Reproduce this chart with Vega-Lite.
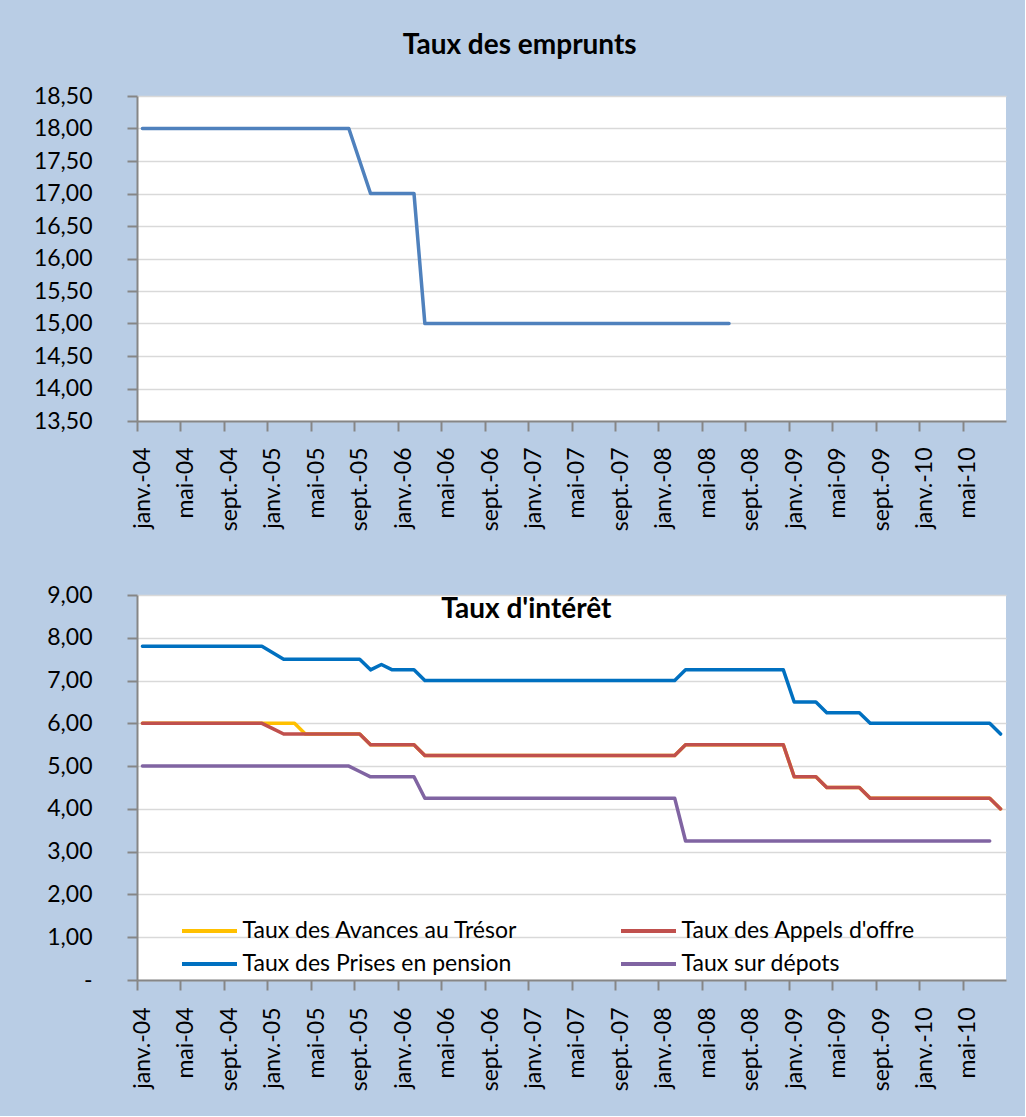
{
  "$schema": "https://vega.github.io/schema/vega-lite/v6.json",
  "background": "#b9cde5",
  "padding": {"left": 33, "top": 32, "right": 19, "bottom": 25},
  "spacing": 53,
  "resolve": {"legend": {"color": "independent"}, "scale": {"color": "independent"}},
  "datasets": {
    "mois": [
      {"m": "janv.-04", "emp": 18, "av": 6, "ao": 6, "pp": 7.8, "dep": 5},
      {"m": "févr.-04", "emp": 18, "av": 6, "ao": 6, "pp": 7.8, "dep": 5},
      {"m": "mars-04", "emp": 18, "av": 6, "ao": 6, "pp": 7.8, "dep": 5},
      {"m": "avr.-04", "emp": 18, "av": 6, "ao": 6, "pp": 7.8, "dep": 5},
      {"m": "mai-04", "emp": 18, "av": 6, "ao": 6, "pp": 7.8, "dep": 5},
      {"m": "juin-04", "emp": 18, "av": 6, "ao": 6, "pp": 7.8, "dep": 5},
      {"m": "juil.-04", "emp": 18, "av": 6, "ao": 6, "pp": 7.8, "dep": 5},
      {"m": "août-04", "emp": 18, "av": 6, "ao": 6, "pp": 7.8, "dep": 5},
      {"m": "sept.-04", "emp": 18, "av": 6, "ao": 6, "pp": 7.8, "dep": 5},
      {"m": "oct.-04", "emp": 18, "av": 6, "ao": 6, "pp": 7.8, "dep": 5},
      {"m": "nov.-04", "emp": 18, "av": 6, "ao": 6, "pp": 7.8, "dep": 5},
      {"m": "déc.-04", "emp": 18, "av": 6, "ao": 6, "pp": 7.8, "dep": 5},
      {"m": "janv.-05", "emp": 18, "av": 6, "ao": 5.875, "pp": 7.65, "dep": 5},
      {"m": "févr.-05", "emp": 18, "av": 6, "ao": 5.75, "pp": 7.5, "dep": 5},
      {"m": "mars-05", "emp": 18, "av": 6, "ao": 5.75, "pp": 7.5, "dep": 5},
      {"m": "avr.-05", "emp": 18, "av": 5.75, "ao": 5.75, "pp": 7.5, "dep": 5},
      {"m": "mai-05", "emp": 18, "av": 5.75, "ao": 5.75, "pp": 7.5, "dep": 5},
      {"m": "juin-05", "emp": 18, "av": 5.75, "ao": 5.75, "pp": 7.5, "dep": 5},
      {"m": "juil.-05", "emp": 18, "av": 5.75, "ao": 5.75, "pp": 7.5, "dep": 5},
      {"m": "août-05", "emp": 18, "av": 5.75, "ao": 5.75, "pp": 7.5, "dep": 5},
      {"m": "sept.-05", "emp": 17.5, "av": 5.75, "ao": 5.75, "pp": 7.5, "dep": 4.875},
      {"m": "oct.-05", "emp": 17, "av": 5.5, "ao": 5.5, "pp": 7.25, "dep": 4.75},
      {"m": "nov.-05", "emp": 17, "av": 5.5, "ao": 5.5, "pp": 7.375, "dep": 4.75},
      {"m": "déc.-05", "emp": 17, "av": 5.5, "ao": 5.5, "pp": 7.25, "dep": 4.75},
      {"m": "janv.-06", "emp": 17, "av": 5.5, "ao": 5.5, "pp": 7.25, "dep": 4.75},
      {"m": "févr.-06", "emp": 17, "av": 5.5, "ao": 5.5, "pp": 7.25, "dep": 4.75},
      {"m": "mars-06", "emp": 15, "av": 5.25, "ao": 5.25, "pp": 7, "dep": 4.25},
      {"m": "avr.-06", "emp": 15, "av": 5.25, "ao": 5.25, "pp": 7, "dep": 4.25},
      {"m": "mai-06", "emp": 15, "av": 5.25, "ao": 5.25, "pp": 7, "dep": 4.25},
      {"m": "juin-06", "emp": 15, "av": 5.25, "ao": 5.25, "pp": 7, "dep": 4.25},
      {"m": "juil.-06", "emp": 15, "av": 5.25, "ao": 5.25, "pp": 7, "dep": 4.25},
      {"m": "août-06", "emp": 15, "av": 5.25, "ao": 5.25, "pp": 7, "dep": 4.25},
      {"m": "sept.-06", "emp": 15, "av": 5.25, "ao": 5.25, "pp": 7, "dep": 4.25},
      {"m": "oct.-06", "emp": 15, "av": 5.25, "ao": 5.25, "pp": 7, "dep": 4.25},
      {"m": "nov.-06", "emp": 15, "av": 5.25, "ao": 5.25, "pp": 7, "dep": 4.25},
      {"m": "déc.-06", "emp": 15, "av": 5.25, "ao": 5.25, "pp": 7, "dep": 4.25},
      {"m": "janv.-07", "emp": 15, "av": 5.25, "ao": 5.25, "pp": 7, "dep": 4.25},
      {"m": "févr.-07", "emp": 15, "av": 5.25, "ao": 5.25, "pp": 7, "dep": 4.25},
      {"m": "mars-07", "emp": 15, "av": 5.25, "ao": 5.25, "pp": 7, "dep": 4.25},
      {"m": "avr.-07", "emp": 15, "av": 5.25, "ao": 5.25, "pp": 7, "dep": 4.25},
      {"m": "mai-07", "emp": 15, "av": 5.25, "ao": 5.25, "pp": 7, "dep": 4.25},
      {"m": "juin-07", "emp": 15, "av": 5.25, "ao": 5.25, "pp": 7, "dep": 4.25},
      {"m": "juil.-07", "emp": 15, "av": 5.25, "ao": 5.25, "pp": 7, "dep": 4.25},
      {"m": "août-07", "emp": 15, "av": 5.25, "ao": 5.25, "pp": 7, "dep": 4.25},
      {"m": "sept.-07", "emp": 15, "av": 5.25, "ao": 5.25, "pp": 7, "dep": 4.25},
      {"m": "oct.-07", "emp": 15, "av": 5.25, "ao": 5.25, "pp": 7, "dep": 4.25},
      {"m": "nov.-07", "emp": 15, "av": 5.25, "ao": 5.25, "pp": 7, "dep": 4.25},
      {"m": "déc.-07", "emp": 15, "av": 5.25, "ao": 5.25, "pp": 7, "dep": 4.25},
      {"m": "janv.-08", "emp": 15, "av": 5.25, "ao": 5.25, "pp": 7, "dep": 4.25},
      {"m": "févr.-08", "emp": 15, "av": 5.25, "ao": 5.25, "pp": 7, "dep": 4.25},
      {"m": "mars-08", "emp": 15, "av": 5.5, "ao": 5.5, "pp": 7.25, "dep": 3.25},
      {"m": "avr.-08", "emp": 15, "av": 5.5, "ao": 5.5, "pp": 7.25, "dep": 3.25},
      {"m": "mai-08", "emp": 15, "av": 5.5, "ao": 5.5, "pp": 7.25, "dep": 3.25},
      {"m": "juin-08", "emp": 15, "av": 5.5, "ao": 5.5, "pp": 7.25, "dep": 3.25},
      {"m": "juil.-08", "emp": 15, "av": 5.5, "ao": 5.5, "pp": 7.25, "dep": 3.25},
      {"m": "août-08", "emp": null, "av": 5.5, "ao": 5.5, "pp": 7.25, "dep": 3.25},
      {"m": "sept.-08", "emp": null, "av": 5.5, "ao": 5.5, "pp": 7.25, "dep": 3.25},
      {"m": "oct.-08", "emp": null, "av": 5.5, "ao": 5.5, "pp": 7.25, "dep": 3.25},
      {"m": "nov.-08", "emp": null, "av": 5.5, "ao": 5.5, "pp": 7.25, "dep": 3.25},
      {"m": "déc.-08", "emp": null, "av": 5.5, "ao": 5.5, "pp": 7.25, "dep": 3.25},
      {"m": "janv.-09", "emp": null, "av": 4.75, "ao": 4.75, "pp": 6.5, "dep": 3.25},
      {"m": "févr.-09", "emp": null, "av": 4.75, "ao": 4.75, "pp": 6.5, "dep": 3.25},
      {"m": "mars-09", "emp": null, "av": 4.75, "ao": 4.75, "pp": 6.5, "dep": 3.25},
      {"m": "avr.-09", "emp": null, "av": 4.5, "ao": 4.5, "pp": 6.25, "dep": 3.25},
      {"m": "mai-09", "emp": null, "av": 4.5, "ao": 4.5, "pp": 6.25, "dep": 3.25},
      {"m": "juin-09", "emp": null, "av": 4.5, "ao": 4.5, "pp": 6.25, "dep": 3.25},
      {"m": "juil.-09", "emp": null, "av": 4.5, "ao": 4.5, "pp": 6.25, "dep": 3.25},
      {"m": "août-09", "emp": null, "av": 4.25, "ao": 4.25, "pp": 6, "dep": 3.25},
      {"m": "sept.-09", "emp": null, "av": 4.25, "ao": 4.25, "pp": 6, "dep": 3.25},
      {"m": "oct.-09", "emp": null, "av": 4.25, "ao": 4.25, "pp": 6, "dep": 3.25},
      {"m": "nov.-09", "emp": null, "av": 4.25, "ao": 4.25, "pp": 6, "dep": 3.25},
      {"m": "déc.-09", "emp": null, "av": 4.25, "ao": 4.25, "pp": 6, "dep": 3.25},
      {"m": "janv.-10", "emp": null, "av": 4.25, "ao": 4.25, "pp": 6, "dep": 3.25},
      {"m": "févr.-10", "emp": null, "av": 4.25, "ao": 4.25, "pp": 6, "dep": 3.25},
      {"m": "mars-10", "emp": null, "av": 4.25, "ao": 4.25, "pp": 6, "dep": 3.25},
      {"m": "avr.-10", "emp": null, "av": 4.25, "ao": 4.25, "pp": 6, "dep": 3.25},
      {"m": "mai-10", "emp": null, "av": 4.25, "ao": 4.25, "pp": 6, "dep": 3.25},
      {"m": "juin-10", "emp": null, "av": 4.25, "ao": 4.25, "pp": 6, "dep": 3.25},
      {"m": "juil.-10", "emp": null, "av": 4.25, "ao": 4.25, "pp": 6, "dep": 3.25},
      {"m": "août-10", "emp": null, "av": 4, "ao": 4, "pp": 5.75, "dep": null}
    ]
  },
  "data": {"name": "mois"},
  "vconcat": [
    {
      "width": 869,
      "height": 325,
      "title": {"text": "Taux des emprunts", "offset": 25},
      "mark": {"type": "line", "color": "#4f81bd", "strokeWidth": 3.5, "strokeJoin": "round", "strokeCap": "round"},
      "encoding": {
        "x": {
          "field": "m", "type": "ordinal", "sort": null, "title": null,
          "scale": {"type": "point", "padding": 0.5, "domain": ["janv.-04","févr.-04","mars-04","avr.-04","mai-04","juin-04","juil.-04","août-04","sept.-04","oct.-04","nov.-04","déc.-04","janv.-05","févr.-05","mars-05","avr.-05","mai-05","juin-05","juil.-05","août-05","sept.-05","oct.-05","nov.-05","déc.-05","janv.-06","févr.-06","mars-06","avr.-06","mai-06","juin-06","juil.-06","août-06","sept.-06","oct.-06","nov.-06","déc.-06","janv.-07","févr.-07","mars-07","avr.-07","mai-07","juin-07","juil.-07","août-07","sept.-07","oct.-07","nov.-07","déc.-07","janv.-08","févr.-08","mars-08","avr.-08","mai-08","juin-08","juil.-08","août-08","sept.-08","oct.-08","nov.-08","déc.-08","janv.-09","févr.-09","mars-09","avr.-09","mai-09","juin-09","juil.-09","août-09","sept.-09","oct.-09","nov.-09","déc.-09","janv.-10","févr.-10","mars-10","avr.-10","mai-10","juin-10","juil.-10","août-10"]},
          "axis": {"values": ["janv.-04","mai-04","sept.-04","janv.-05","mai-05","sept.-05","janv.-06","mai-06","sept.-06","janv.-07","mai-07","sept.-07","janv.-08","mai-08","sept.-08","janv.-09","mai-09","sept.-09","janv.-10","mai-10"], "tickOffset": -5.43, "labelOffset": 5.43, "labelPadding": 16}
        },
        "y": {
          "field": "emp", "type": "quantitative", "title": null,
          "scale": {"domain": [13.5, 18.5], "zero": false, "nice": false},
          "axis": {"values": [13.5, 14, 14.5, 15, 15.5, 16, 16.5, 17, 17.5, 18, 18.5], "labelExpr": "replace(format(datum.value, '.2f'), '.', ',')"}
        }
      }
    },
    {
      "width": 869,
      "height": 385,
      "title": {"text": "Taux d'intérêt", "offset": -40},
      "transform": [{"fold": ["av", "ao", "pp", "dep"], "as": ["serie", "val"]}],
      "mark": {"type": "line", "strokeWidth": 3.5, "strokeJoin": "round", "strokeCap": "round"},
      "encoding": {
        "x": {
          "field": "m", "type": "ordinal", "sort": null, "title": null,
          "scale": {"type": "point", "padding": 0.5, "domain": ["janv.-04","févr.-04","mars-04","avr.-04","mai-04","juin-04","juil.-04","août-04","sept.-04","oct.-04","nov.-04","déc.-04","janv.-05","févr.-05","mars-05","avr.-05","mai-05","juin-05","juil.-05","août-05","sept.-05","oct.-05","nov.-05","déc.-05","janv.-06","févr.-06","mars-06","avr.-06","mai-06","juin-06","juil.-06","août-06","sept.-06","oct.-06","nov.-06","déc.-06","janv.-07","févr.-07","mars-07","avr.-07","mai-07","juin-07","juil.-07","août-07","sept.-07","oct.-07","nov.-07","déc.-07","janv.-08","févr.-08","mars-08","avr.-08","mai-08","juin-08","juil.-08","août-08","sept.-08","oct.-08","nov.-08","déc.-08","janv.-09","févr.-09","mars-09","avr.-09","mai-09","juin-09","juil.-09","août-09","sept.-09","oct.-09","nov.-09","déc.-09","janv.-10","févr.-10","mars-10","avr.-10","mai-10","juin-10","juil.-10","août-10"]},
          "axis": {"values": ["janv.-04","mai-04","sept.-04","janv.-05","mai-05","sept.-05","janv.-06","mai-06","sept.-06","janv.-07","mai-07","sept.-07","janv.-08","mai-08","sept.-08","janv.-09","mai-09","sept.-09","janv.-10","mai-10"], "tickOffset": -5.43, "labelOffset": 5.43, "labelPadding": 17}
        },
        "y": {
          "field": "val", "type": "quantitative", "title": null,
          "scale": {"domain": [0, 9], "nice": false},
          "axis": {"values": [0, 1, 2, 3, 4, 5, 6, 7, 8, 9], "labelExpr": "datum.value == 0 ? '-\u00a0\u00a0' : replace(format(datum.value, '.2f'), '.', ',')"}
        },
        "color": {
          "field": "serie", "type": "nominal",
          "scale": {"domain": ["av", "ao", "pp", "dep"], "range": ["#ffc000", "#c0504d", "#0070c0", "#8064a2"]},
          "legend": {
            "title": null,
            "labelExpr": "datum.value == 'av' ? 'Taux des Avances au Trésor' : datum.value == 'ao' ? \"Taux des Appels d'offre\" : datum.value == 'pp' ? 'Taux des Prises en pension' : 'Taux sur dépots'"
          }
        }
      }
    }
  ],
  "config": {
    "font": "Lato",
    "view": {"fill": "white", "stroke": null},
    "axis": {
      "labelFont": "Lato", "labelFontSize": 23, "labelColor": "#000000",
      "domainColor": "#868686", "domainWidth": 2,
      "tickColor": "#868686", "tickWidth": 2, "tickSize": 10,
      "gridColor": "#d9d9d9", "gridWidth": 1.5
    },
    "axisX": {"grid": false, "labelAngle": -90},
    "axisY": {"grid": true, "labelPadding": 35},
    "title": {"font": "Lato", "fontSize": 28, "fontWeight": "bold", "color": "#000000", "anchor": "middle", "frame": "bounds"},
    "legend": {
      "orient": "none", "legendX": 43, "legendY": 323, "direction": "horizontal",
      "columns": 2, "columnPadding": 95, "rowPadding": 8, "padding": 0,
      "symbolType": "M-2.5,0H2.5", "symbolSize": 484, "symbolStrokeWidth": 4, "symbolOffset": 16.5,
      "labelFont": "Lato", "labelFontSize": 23, "labelColor": "#000000", "labelOffset": 20, "labelLimit": 500
    }
  }
}
